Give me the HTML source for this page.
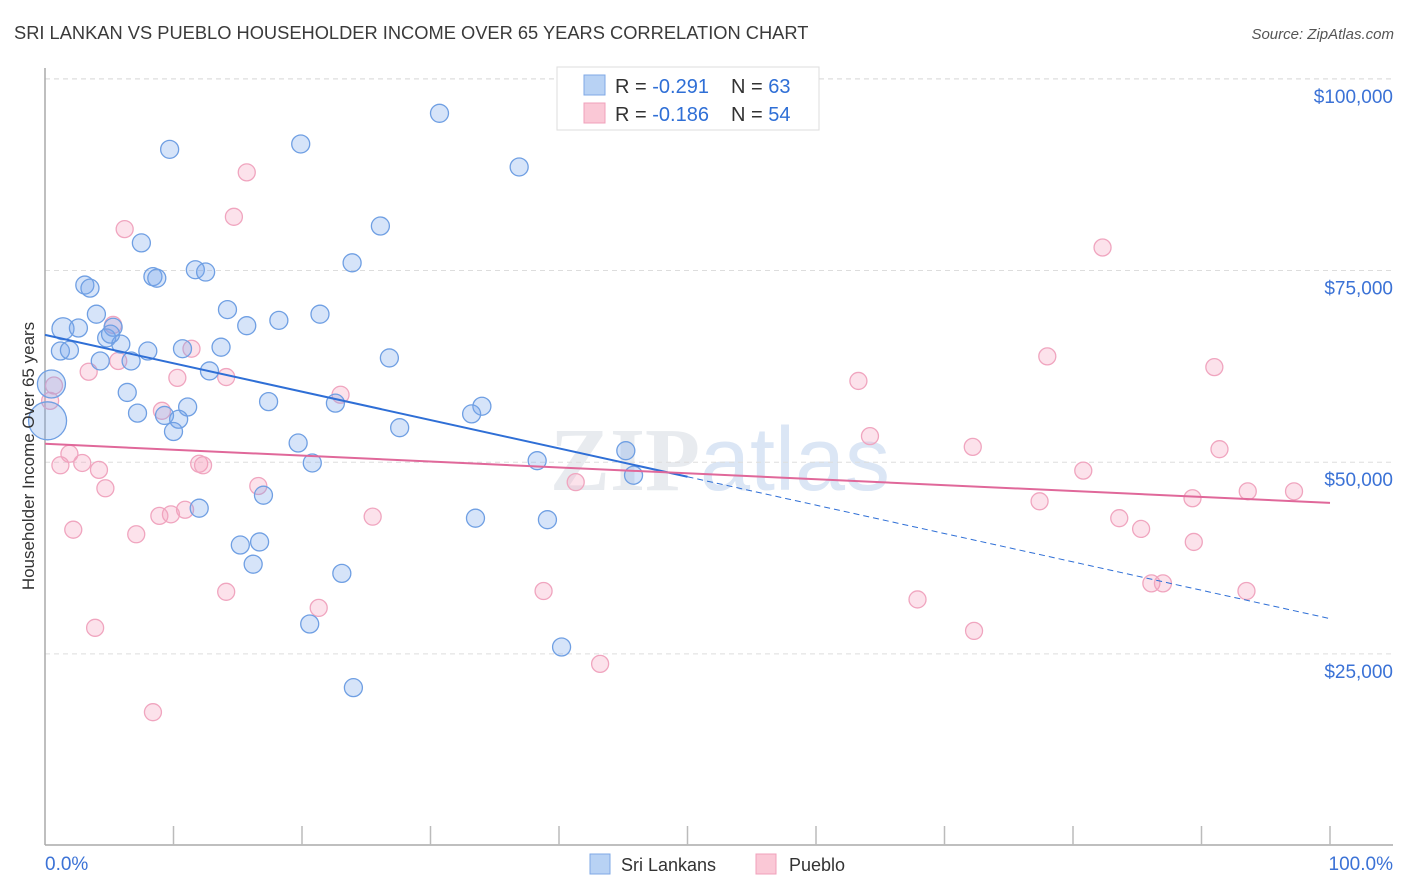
<!DOCTYPE html>
<html><head><meta charset="utf-8"><style>
body{margin:0;background:#fff;font-family:"Liberation Sans",sans-serif;}
svg{display:block}
</style></head><body>
<svg id="chart" width="1406" height="892" xmlns="http://www.w3.org/2000/svg">
<text x="14" y="39" font-size="18.3" fill="#3a3a3a">SRI LANKAN VS PUEBLO HOUSEHOLDER INCOME OVER 65 YEARS CORRELATION CHART</text>
<text x="1394" y="39" font-size="15" fill="#555" font-style="italic" text-anchor="end">Source: ZipAtlas.com</text>
<text x="720" y="490" font-size="90" fill="#e8ebef" text-anchor="middle" font-family="Liberation Serif,serif" font-weight="bold">ZIP<tspan font-family="Liberation Sans,sans-serif" font-weight="normal" fill="#dbe6f5">atlas</tspan></text>
<g id="grid"></g>
<g id="axes"></g>
<g id="pts"></g>
<g id="trends"></g>
<text transform="translate(34,456) rotate(-90)" font-size="17" fill="#333" text-anchor="middle">Householder Income Over 65 years</text>
<g>
<rect x="557" y="67" width="262" height="63" fill="#fff" stroke="#ddd"/>
<rect x="584" y="75" width="21" height="20" fill="#b8d2f4" stroke="#7fa8e6"/>
<rect x="584" y="103" width="21" height="20" fill="#fac8d6" stroke="#f0a0bb"/>
<text x="615" y="93" font-size="20" fill="#333">R = <tspan fill="#2f6fd6">-0.291</tspan><tspan x="731">N = </tspan><tspan fill="#2f6fd6">63</tspan></text>
<text x="615" y="121" font-size="20" fill="#333">R = <tspan fill="#2f6fd6">-0.186</tspan><tspan x="731">N = </tspan><tspan fill="#2f6fd6">54</tspan></text>
</g>
<g>
<rect x="590" y="854" width="20" height="20" fill="#b8d2f4" stroke="#7fa8e6"/>
<text x="621" y="871" font-size="18" fill="#333">Sri Lankans</text>
<rect x="756" y="854" width="20" height="20" fill="#fac8d6" stroke="#f0a0bb"/>
<text x="789" y="871" font-size="18" fill="#333">Pueblo</text>
</g>
</svg>
<script>
const yTicks=[25000,50000,75000,100000];
const yTickLabels=["$25,000","$50,000","$75,000","$100,000"];
const xTickLabels=["0.0%","100.0%"];
const blueX=[30.7,9.7,19.9,36.9,26.1,7.5,23.9,11.7,12.5,8.4,8.7,3.1,3.5,14.2,4.0,21.4,18.2,15.7,1.4,2.6,5.3,4.8,5.9,13.7,8.0,10.7,1.2,1.9,4.3,6.7,26.8,12.8,0.5,6.4,17.4,22.6,11.1,34.0,7.2,9.3,10.4,33.2,0.2,10.0,27.6,19.7,45.2,20.8,38.3,45.8,17.0,12.0,33.5,39.1,15.2,16.7,16.2,23.1,20.6,40.2,24.0,5.1];
const blueY=[95.5,90.8,91.5,88.5,80.8,78.6,76.0,75.1,74.8,74.2,74.0,73.1,72.7,69.9,69.3,69.3,68.5,67.8,67.4,67.5,67.6,66.2,65.4,65.0,64.5,64.8,64.5,64.6,63.2,63.2,63.6,61.9,60.2,59.1,57.9,57.7,57.2,57.3,56.4,56.1,55.6,56.3,55.4,54.0,54.5,52.5,51.5,49.9,50.2,48.3,45.7,44.0,42.7,42.5,39.2,39.6,36.7,35.5,28.9,25.9,20.6,66.7];
const blueR=[9,9,9,9,9,9,9,9,9,9,9,9,9,9,9,9,9,9,11,9,9,9,9,9,9,9,9,9,9,9,9,9,14,9,9,9,9,9,9,9,9,9,19,9,9,9,9,9,9,9,9,9,9,9,9,9,9,9,9,9,9,9];
const pinkX=[15.7,14.7,6.2,82.3,5.3,78.0,91.0,11.4,5.7,3.4,10.3,14.1,63.3,0.7,0.4,23.0,9.1,64.2,72.2,91.4,1.9,1.2,2.9,12.0,12.3,4.2,80.8,41.3,16.6,4.7,89.3,93.6,97.2,77.4,10.9,9.8,8.9,25.5,83.6,85.3,2.2,7.1,89.4,86.1,87.0,38.8,14.1,93.5,67.9,21.3,3.9,72.3,43.2,8.4];
const pinkY=[87.8,82.0,80.4,78.0,67.9,63.8,62.4,64.8,63.2,61.8,61.0,61.1,60.6,60.0,58.0,58.8,56.7,53.4,52.0,51.7,51.1,49.6,49.9,49.8,49.6,49.0,48.9,47.4,46.9,46.6,45.3,46.2,46.2,44.9,43.8,43.2,43.0,42.9,42.7,41.3,41.2,40.6,39.6,34.2,34.2,33.2,33.1,33.2,32.1,31.0,28.4,28.0,23.7,17.4];
const blueTrend=[66.6,29.6];
const blueSolidEnd=50;
const pinkTrend=[52.4,44.7];
const NS="http://www.w3.org/2000/svg";
const X0=45,X1=1330,YB=845.6,PXK=7.668;
const sx=p=>X0+(X1-X0)*p/100;
const sy=k=>YB-k*PXK;
function mk(tag,attrs,parent){const e=document.createElementNS(NS,tag);for(const k in attrs)e.setAttribute(k,attrs[k]);parent.appendChild(e);return e;}
const grid=document.getElementById('grid'),axes=document.getElementById('axes'),pts=document.getElementById('pts'),tr=document.getElementById('trends');
yTicks.forEach((v,i)=>{const y=sy(v/1000);
const l=mk('line',{x1:45,x2:1393,y1:y,y2:y,stroke:'#ddd','stroke-dasharray':'5,4'},grid);


const t=mk('text',{x:1393,y:y+24,'font-size':19,fill:'#3b72d6','text-anchor':'end'},grid);t.textContent=yTickLabels[i];

});
const tl=mk('line',{x1:45,x2:1393,y1:79,y2:79,stroke:'#ddd','stroke-dasharray':'5,4'},grid);


const ya=mk('line',{x1:45,x2:45,y1:68,y2:845,stroke:'#aaa','stroke-width':1.5},axes);


const xa=mk('line',{x1:45,x2:1393,y1:845,y2:845,stroke:'#aaa','stroke-width':1.5},axes);


for(let i=1;i<=10;i++){const x=sx(i*10);const t=mk('line',{x1:x,x2:x,y1:826,y2:845,stroke:'#bbb','stroke-width':1.5},axes);

}
const xl0=mk('text',{x:45,y:870,'font-size':19,fill:'#3b72d6'},axes);xl0.textContent=xTickLabels[0];


const xl1=mk('text',{x:1393,y:870,'font-size':19,fill:'#3b72d6','text-anchor':'end'},axes);xl1.textContent=xTickLabels[1];


pinkX.forEach((x,i)=>{const c=mk('circle',{cx:sx(x),cy:sy(pinkY[i]),r:8.5,fill:'rgba(245,160,190,0.3)',stroke:'#f0a5bf','stroke-width':1.3},pts);

});
blueX.forEach((x,i)=>{const c=mk('circle',{cx:sx(x),cy:sy(blueY[i]),r:blueR[i],fill:'rgba(120,165,235,0.3)',stroke:'#6f9fe3','stroke-width':1.3},pts);

});
const bv=p=>blueTrend[0]+(blueTrend[1]-blueTrend[0])*p/100;
const b1=mk('line',{x1:sx(0),y1:sy(bv(0)),x2:sx(blueSolidEnd),y2:sy(bv(blueSolidEnd)),stroke:'#2f6fd6','stroke-width':2},tr);


const b2=mk('line',{x1:sx(blueSolidEnd),y1:sy(bv(blueSolidEnd)),x2:sx(100),y2:sy(bv(100)),stroke:'#2f6fd6','stroke-width':1,'stroke-dasharray':'6,4'},tr);


const p1=mk('line',{x1:sx(0),y1:sy(pinkTrend[0]),x2:sx(100),y2:sy(pinkTrend[1]),stroke:'#e0689a','stroke-width':2},tr);


</script>
</body></html>
